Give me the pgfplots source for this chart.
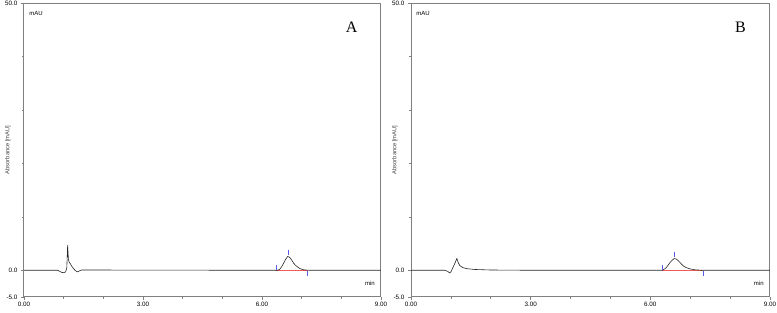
\documentclass[border=0pt]{standalone}
\usepackage{pgfplots}
\pgfplotsset{compat=1.18}
\usepackage{fontspec}
\setmainfont{Liberation Sans}
\newfontfamily\serifA{Liberation Serif}
\definecolor{axgray}{RGB}{128,128,128}
\definecolor{mkblue}{RGB}{90,90,230}
\definecolor{bsred}{RGB}{240,90,90}
\pgfplotsset{
  chrom/.style={
    scale only axis, width=357pt, height=294pt,
    xmin=0, xmax=9, ymin=-5, ymax=50,
    xtick={0,3,6,9}, xticklabels={0.00,3.00,6.00,9.00},
    minor xtick={1,2,4,5,7,8},
    ytick={-5,0,50}, yticklabels={-5.0,0.0,50.0},
    minor ytick={10,20,30,40},
    xtick pos=bottom, ytick pos=left, tick align=outside,
    major tick length=3pt, minor tick length=2pt,
    axis line style={axgray, line width=1pt},
    every tick/.style={axgray, line width=0.6pt},
    /pgf/number format/assume math mode=true,
    tick label style={font=\fontsize{6.3}{7}\selectfont, text=black},
    xticklabel style={yshift=1pt},
    ylabel={Absorbance [mAU]},
    ylabel style={at={(axis description cs:-0.045,0.5)}, anchor=center, font=\fontsize{5.8}{6}\selectfont, text=black!75},
    clip=false,
  }
}
\begin{document}
\begin{tikzpicture}
\useasboundingbox (0,0) rectangle (777pt,313pt);
% Panel A
\begin{axis}[chrom, at={(24pt,16pt)}, anchor=south west]
\addplot[bsred, line width=0.9pt] coordinates {(6.35,0) (7.15,0)};
\addplot[black!85, line width=0.6pt] coordinates {
(0,0) (0.85,0) (0.9,-0.2) (0.95,-0.4) (1.0,-0.45) (1.05,-0.3) (1.08,0.5) (1.1,4.7) (1.12,2.0) (1.14,1.5) (1.17,1.2) (1.2,0.8) (1.25,0.3) (1.3,-0.1) (1.35,-0.3) (1.4,-0.1) (1.45,0.05) (1.6,0.05) (3,0.03) (6.0,0) (6.4,0) (6.45,0.2) (6.5,0.7) (6.55,1.4) (6.6,2.1) (6.65,2.6) (6.7,2.4) (6.75,1.9) (6.8,1.3) (6.85,0.9) (6.9,0.6) (6.95,0.35) (7.0,0.2) (7.05,0.1) (7.1,0.05) (7.2,0) (9,0)};
\addplot[only marks, mark=|, mark size=2.5pt, mkblue, mark options={line width=0.5pt}] coordinates {(6.35,0.6) (6.65,3.4) (7.15,-0.6)};
\node[anchor=north west, font=\fontsize{6}{7}\selectfont] at (axis description cs:0.005,0.985) {mAU};
\node[font=\fontsize{6}{7}\selectfont] at (axis cs:8.72,-2.4) {min};
\node[font=\serifA\fontsize{16}{18}\selectfont] at (axis cs:8.26,45.5) {A};
\end{axis}
% Panel B
\begin{axis}[chrom, at={(411pt,16pt)}, anchor=south west, width=359pt]
\addplot[bsred, line width=0.9pt] coordinates {(6.29,0) (7.32,0)};
\addplot[black!85, line width=0.6pt] coordinates {
(0,0) (0.85,0) (0.92,-0.2) (0.97,-0.5) (1.0,-0.3) (1.05,0.5) (1.1,1.3) (1.15,2.2) (1.18,1.5) (1.22,0.9) (1.3,0.5) (1.4,0.3) (1.6,0.15) (2.0,0.05) (3,0) (6.3,0) (6.35,0.2) (6.4,0.5) (6.45,1.0) (6.5,1.5) (6.55,1.9) (6.6,2.2) (6.65,2.1) (6.7,1.8) (6.75,1.4) (6.8,1.0) (6.85,0.7) (6.9,0.5) (7.0,0.25) (7.1,0.1) (7.2,0.05) (7.3,0) (9,0)};
\addplot[only marks, mark=|, mark size=2.5pt, mkblue, mark options={line width=0.5pt}] coordinates {(6.29,0.6) (6.6,3.0) (7.32,-0.6)};
\node[anchor=north west, font=\fontsize{6}{7}\selectfont] at (axis description cs:0.005,0.985) {mAU};
\node[font=\fontsize{6}{7}\selectfont] at (axis cs:8.72,-2.4) {min};
\node[font=\serifA\fontsize{16}{18}\selectfont] at (axis cs:8.26,45.5) {B};
\end{axis}
\end{tikzpicture}
\end{document}
